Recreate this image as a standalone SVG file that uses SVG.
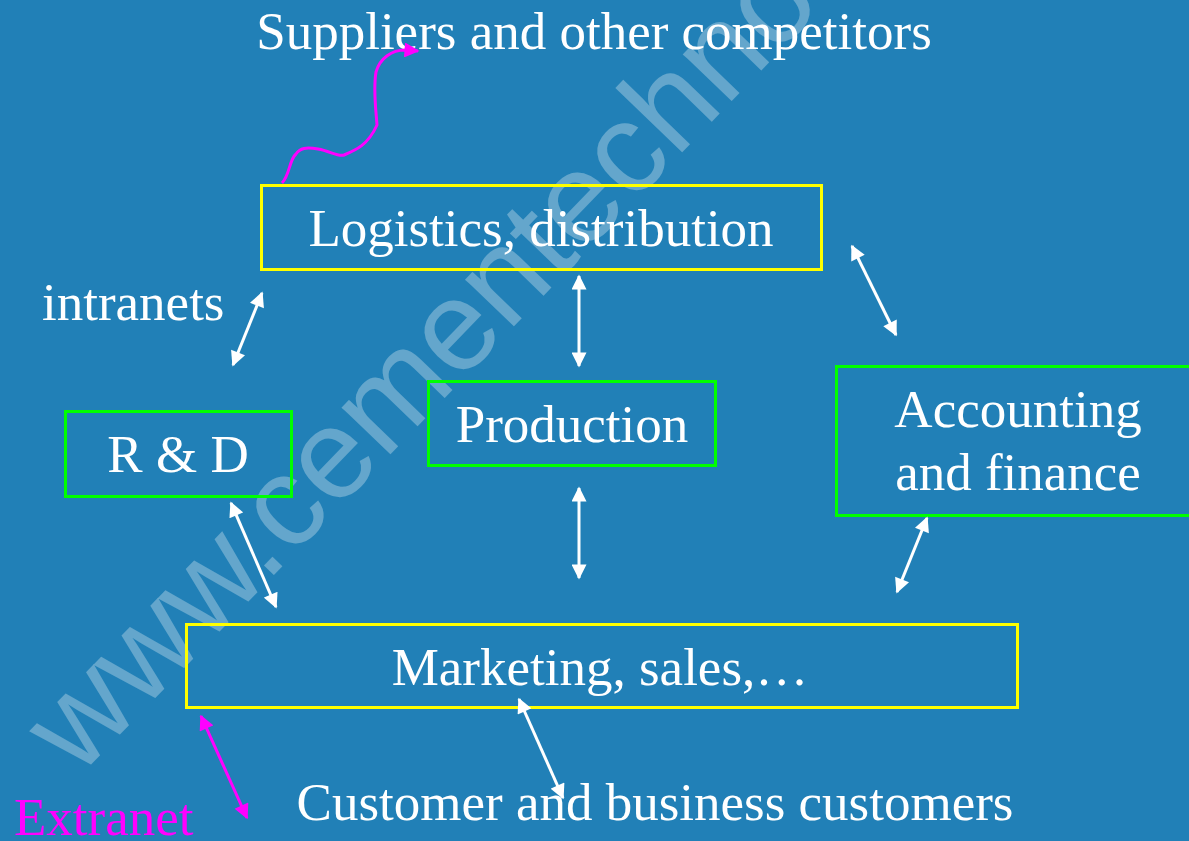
<svg xmlns="http://www.w3.org/2000/svg" width="1189" height="841" viewBox="0 0 1189 841">
<defs>
<style>
.t{font-family:"Liberation Serif","Times New Roman",serif;font-size:53px;fill:#fff}
.ext{font-family:"Liberation Serif","Times New Roman",serif;font-size:53px;fill:#ff00ff}
.wm{font-family:"Liberation Sans",Arial,sans-serif;font-size:128px;fill:#fff;fill-opacity:0.3}
.yb{fill:none;stroke:#ffff00;stroke-width:3}
.gb{fill:none;stroke:#00ff00;stroke-width:3}
.wa{stroke:#fff;stroke-width:3;fill:none;marker-start:url(#wh);marker-end:url(#wh)}
.ma{stroke:#ff00ff;stroke-width:3;fill:none;marker-start:url(#mh);marker-end:url(#mh)}
</style>
<marker id="wh" viewBox="0 0 10 10" refX="9" refY="5" markerWidth="5.5" markerHeight="5" markerUnits="strokeWidth" orient="auto-start-reverse">
<path d="M0,0 L10,5 L0,10 z" fill="#fff"/>
</marker>
<marker id="mh" viewBox="0 0 10 10" refX="9" refY="5" markerWidth="5.5" markerHeight="5" markerUnits="strokeWidth" orient="auto-start-reverse">
<path d="M0,0 L10,5 L0,10 z" fill="#ff00ff"/>
</marker>
<marker id="mend" viewBox="0 0 10 10" refX="9" refY="5" markerWidth="5.5" markerHeight="5" markerUnits="strokeWidth" orient="auto">
<path d="M0,0 L10,5 L0,10 z" fill="#ff00ff"/>
</marker>
</defs>
<rect x="0" y="0" width="1189" height="841" fill="#2180B7"/>
<text class="wm" transform="translate(78,778) rotate(-46)">www.cementechno.</text>

<g id="suppliers"><text class="t" x="594" y="49" text-anchor="middle">Suppliers and other competitors</text></g>
<g id="logistics"><rect class="yb" x="261.5" y="185.5" width="560" height="84"/><text class="t" x="541" y="246" text-anchor="middle">Logistics, distribution</text></g>
<g id="intranets"><text class="t" x="42" y="320">intranets</text></g>
<g id="production"><rect class="gb" x="428.5" y="381.5" width="287" height="84"/><text class="t" x="572" y="442" text-anchor="middle">Production</text></g>
<g id="rd"><rect class="gb" x="65.5" y="411.5" width="226" height="85"/><text class="t" x="178" y="472" text-anchor="middle">R &amp; D</text></g>
<g id="accounting"><rect class="gb" x="836.5" y="366.5" width="360" height="149"/><text class="t" x="1018" y="427" text-anchor="middle">Accounting</text><text class="t" x="1018" y="490" text-anchor="middle">and finance</text></g>
<g id="marketing"><rect class="yb" x="186.5" y="624.5" width="831" height="83"/><text class="t" x="600" y="685" text-anchor="middle">Marketing, sales,…</text></g>
<g id="customers"><text class="t" x="655" y="820" text-anchor="middle">Customer and business customers</text></g>
<g id="extranet"><text class="ext" x="14" y="835">Extranet</text></g>

<g id="connectors">
<line class="wa" x1="262" y1="293" x2="233" y2="365"/>
<line class="wa" x1="579" y1="276" x2="579" y2="366"/>
<line class="wa" x1="579" y1="488" x2="579" y2="578"/>
<line class="wa" x1="852" y1="246" x2="896" y2="335"/>
<line class="wa" x1="927" y1="518" x2="897" y2="592"/>
<line class="wa" x1="231" y1="503" x2="276" y2="607"/>
<line class="wa" x1="519" y1="699" x2="563" y2="798"/>
<line class="ma" x1="201" y1="716" x2="247" y2="818"/>
<path d="M282,183 C290,175 289,160 296,154 C300,148 306,147 318,149 C330,151 338,157 344,155 C356,150 368,145 377,125 C376,110 373,90 376,72 C380,58 392,50 405,50 L418,51" fill="none" stroke="#ff00ff" stroke-width="3" marker-end="url(#mend)"/>
</g>
</svg>
